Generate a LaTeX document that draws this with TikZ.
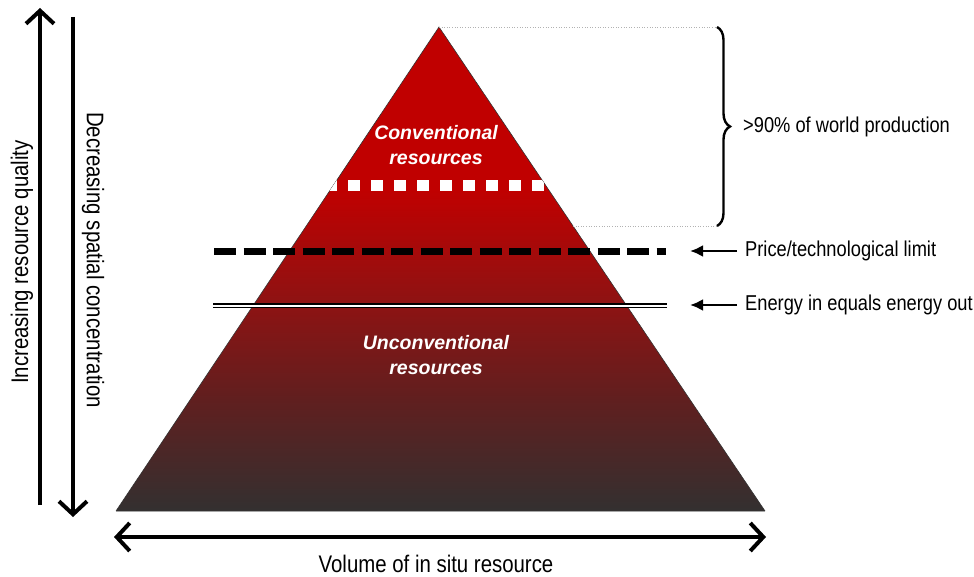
\documentclass[tikz,border=0pt]{standalone}
\usepackage{fontspec}
\setmainfont{Liberation Sans}[FakeStretch=0.85]
\newfontfamily\labelfont{Liberation Sans}
\usetikzlibrary{arrows.meta,decorations.pathreplacing}
\definecolor{topred}{HTML}{C00000}
\definecolor{midred}{HTML}{8D1313}
\definecolor{lowred}{HTML}{601F1F}
\definecolor{botgray}{HTML}{333030}
\pgfdeclareverticalshading{pyrshade}{100bp}{%
  color(0bp)=(botgray); color(25bp)=(botgray); color(36.5bp)=(lowred);
  color(46.3bp)=(midred); color(58.2bp)=(topred); color(75bp)=(topred); color(100bp)=(topred)}
\newcommand\mysidefont{\fontsize{21.5}{24}\selectfont}
\begin{document}
\begin{tikzpicture}[x=1pt,y=-1pt,
  barb/.tip={Straight Barb[length=13pt,width=28pt,line width=4pt]},
  axisarrow/.style={line width=4pt,-barb},
  axisboth/.style={line width=4pt,barb-barb},
  plain/.style={font=\fontsize{24}{26}\selectfont,inner sep=0pt},
  side/.style={font=\mysidefont,inner sep=0pt},
  reslabel/.style={font=\labelfont\fontsize{19.5}{25}\selectfont\bfseries\itshape,text=white,align=center,inner sep=0pt},
  pointer/.style={line width=2.5pt,-{Latex[length=13pt,width=12pt]}},
  guide/.style={gray!60,line width=0.6pt,dotted}
]
\useasboundingbox (0,0) rectangle (974,577);
% pyramid
\coordinate (apex) at (439,27);
\coordinate (bl) at (116,511);
\coordinate (br) at (765,511);
\shade[shading=pyrshade] (apex) -- (bl) -- (br) -- cycle;
\draw[gray!40!black,line width=0.6pt] (bl) -- (apex) -- (br);
\draw[gray!70,line width=0.8pt] (bl) -- (br);
% white dotted limit (clipped to pyramid)
\begin{scope}
\clip (apex) -- (bl) -- (br) -- cycle;
\coordinate (wl) at (325,185.5);
\coordinate (wr) at (545,185.5);
\draw[white,line width=11pt,dash pattern=on 11.7pt off 11.3pt] (wl) -- (wr);
\end{scope}
% price limit
\coordinate (pl) at (214,252);
\coordinate (pr) at (666,252);
\draw[black,line width=7pt,dash pattern=on 22pt off 7.5pt] (pl) -- (pr);
% energy limit
\coordinate (el) at (213,305.5);
\coordinate (er) at (667,305.5);
\draw[black,line width=1.6pt,double=white,double distance=2pt] (el) -- (er);
% labels inside
\node[reslabel] (conv) at (436,145) {Conventional\\resources};
\node[reslabel] (unconv) at (436,355) {Unconventional\\resources};
% brace and guides
\coordinate (btop) at (717,27);
\coordinate (bbot) at (717,226);
\coordinate (gbot) at (573,226);
\draw[guide] (apex) -- (btop);
\draw[guide] (gbot) -- (bbot);
\draw[line width=2.4pt,decorate,decoration={brace,amplitude=13pt}] (btop) -- (bbot);
\node[side,anchor=west] (prod) at (743,127) {>90\% of world production};
% pointers
\node[side,anchor=west] (price) at (745,251) {Price/technological limit};
\node[side,anchor=west] (energy) at (745,305) {Energy in equals energy out};
\coordinate (pa) at (690,251);
\coordinate (ea) at (690,305);
\draw[pointer] (price.west) ++(-8,0) coordinate (ps) (ps) -- (pa);
\draw[pointer] (energy.west) ++(-8,0) coordinate (es) (es) -- (ea);
% left arrows
\coordinate (q1) at (40,505);
\coordinate (q2) at (40,8);
\draw[axisarrow] (q1) -- (q2);
\node[plain,rotate=90] (quality) at (22,262) {Increasing resource quality};
\coordinate (c1) at (73,17);
\coordinate (c2) at (73,517);
\draw[axisarrow] (c1) -- (c2);
\node[plain,rotate=-90] (conc) at (93,260) {Decreasing spatial concentration};
% bottom arrow
\coordinate (v1) at (114,537);
\coordinate (v2) at (766,537);
\draw[axisboth] (v1) -- (v2);
\node[plain] (vol) at (436,564) {Volume of in situ resource};
\end{tikzpicture}
\end{document}
